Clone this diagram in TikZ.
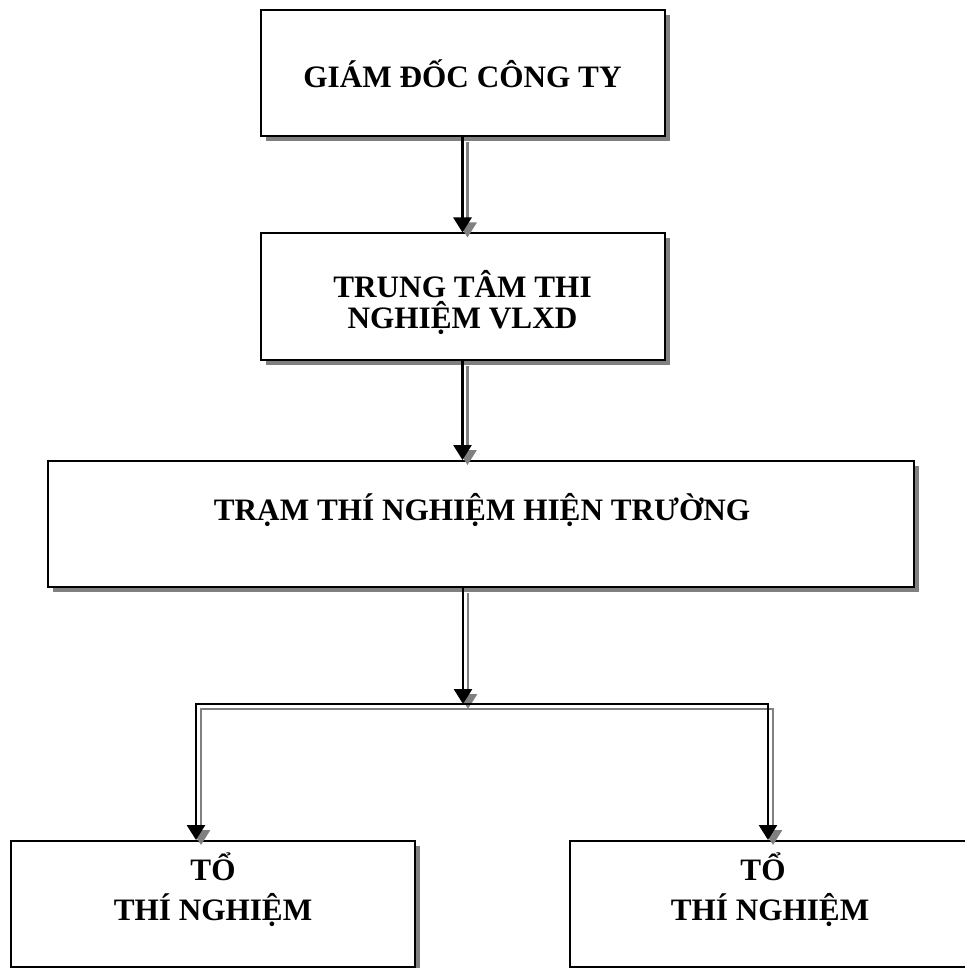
\documentclass[tikz,border=0pt]{standalone}
\usepackage{fontspec}
\setmainfont{Liberation Serif}
\usetikzlibrary{arrows.meta,shadows,calc}
\definecolor{shadowgray}{RGB}{128,128,128}
\begin{document}
\begin{tikzpicture}[x=1pt,y=-1pt,
  box/.style={draw=black,line width=2pt,fill=white,inner sep=0pt,
    minimum height=126pt,
    drop shadow={shadow xshift=5pt,shadow yshift=-5pt,fill=shadowgray,opacity=1}},
  lbl/.style={font=\bfseries\fontsize{31.2}{31.2}\selectfont,anchor=base,inner sep=0pt},
  conn/.style={line width=2.8pt,draw=black,-{Triangle[length=15pt,width=18pt]}},
  connb/.style={line width=2.8pt,draw=black,{Triangle[length=15pt,width=18pt]}-{Triangle[length=15pt,width=18pt]}},
  shd/.style={draw=shadowgray,color=shadowgray,transform canvas={xshift=5pt,yshift=-5pt}}
]
\useasboundingbox (0,0) rectangle (964,968);
\fill[white] (0,0) rectangle (964,968);

% boxes
\node[box,minimum width=404pt] (b1) at (462.5,73.5) {};
\node[box,minimum width=404pt] (b2) at (462.5,296.5) {};
\node[box,minimum width=866pt] (b3) at (481,524) {};
\node[box,minimum width=404pt] (b4) at (212.5,904) {};
\node[box,minimum width=404pt] (b5) at (771.5,904) {};

% labels
\node[lbl] (t1) at (462.5,88) {GIÁM ĐỐC CÔNG TY};
\node[lbl] (t2a) at (462.5,297) {TRUNG TÂM THI};
\node[lbl] (t2b) at (462.5,328) {NGHIỆM VLXD};
\node[lbl] (t3) at (482,520) {TRẠM THÍ NGHIỆM HIỆN TRƯỜNG};
\node[lbl] (t4a) at (213,880) {TỔ};
\node[lbl] (t4b) at (213,920) {THÍ NGHIỆM};
\node[lbl] (t5a) at (763,880) {TỔ};
\node[lbl] (t5b) at (770,920) {THÍ NGHIỆM};

% junction coordinates
\coordinate (j) at (463,704);
\coordinate (jl) at (196,704);
\coordinate (jr) at (768,704);

% connector shadows
\draw[conn,shd] (b1.south) -- (b2.north);
\draw[conn,shd] (b2.south) -- (b3.north -| b2.south);
\draw[conn,shd] (b3.south -| j) -- (j);
\draw[connb,shd] (jl |- b4.north) -- (jl) -- (jr) -- (jr |- b5.north);

% connectors
\draw[conn] (b1.south) -- (b2.north);
\draw[conn] (b2.south) -- (b3.north -| b2.south);
\draw[conn] (b3.south -| j) -- (j);
\draw[connb] (jl |- b4.north) -- (jl) -- (jr) -- (jr |- b5.north);
\end{tikzpicture}
\end{document}
